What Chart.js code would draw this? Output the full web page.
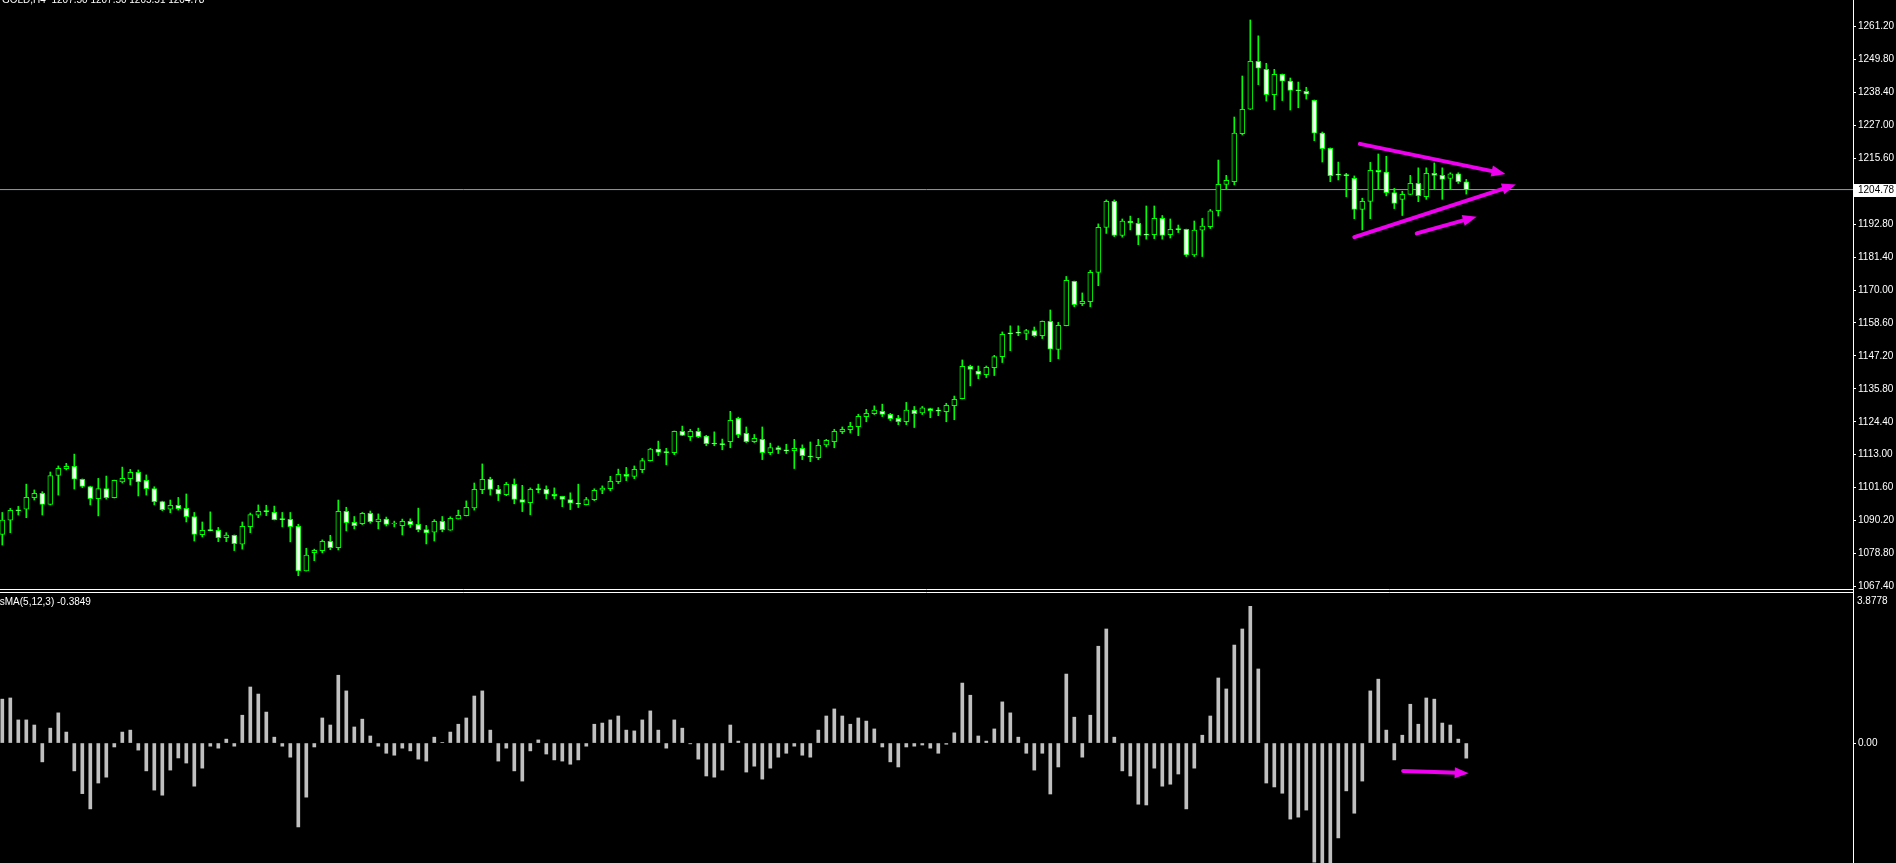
<!DOCTYPE html>
<html>
<head>
<meta charset="utf-8">
<script src="https://cdn.jsdelivr.net/npm/chart.js@4"></script>
<style>
html, body { margin: 0; padding: 0; background: #000; overflow: hidden; }
#myChart { display: block; }
</style>
</head>
<body>
<canvas id="myChart" width="1896" height="863"></canvas>
<script>
// GOLD H4 candles
var opens = [
1085.4,1090.3,1093.7,1094.1,1098.1,1099.6,1095.8,1105.8,1108.2,1109.0,
1104.5,1102.0,1097.8,1101.3,1098.1,1103.6,1104.7,1106.9,1104.1,1101.3,
1096.8,1094.1,1095.5,1094.4,1091.6,1085.3,1086.8,1086.8,1084.3,1085.1,
1082.0,1088.1,1092.1,1093.4,1093.0,1090.6,1090.6,1088.2,1072.8,1079.1,
1079.8,1083.0,1080.8,1093.4,1089.6,1089.1,1092.7,1089.8,1090.7,1089.0,
1088.4,1089.9,1088.9,1087.1,1086.2,1089.9,1086.9,1090.8,1091.9,1094.6,
1100.9,1104.5,1101.0,1099.2,1102.7,1097.5,1096.4,1101.0,1101.0,1099.3,
1098.6,1097.5,1096.0,1095.7,1097.4,1100.7,1101.2,1103.7,1106.2,1105.5,
1107.8,1110.9,1114.9,1113.8,1113.7,1121.1,1119.2,1121.1,1119.4,1116.8,
1116.6,1117.5,1125.6,1120.4,1117.5,1118.3,1113.7,1115.5,1114.4,1114.4,
1115.2,1112.3,1112.0,1116.4,1117.5,1121.0,1121.7,1122.7,1126.2,1127.2,
1128.0,1127.0,1125.6,1124.4,1128.4,1127.5,1129.0,1128.2,1127.9,1130.0,
1132.4,1143.6,1141.9,1140.7,1143.1,1146.9,1154.9,1155.2,1155.0,1156.0,
1154.2,1159.2,1149.4,1157.7,1173.0,1165.3,1166.0,1176.1,1191.7,1200.7,
1188.9,1193.9,1193.1,1189.2,1189.2,1194.8,1189.2,1191.0,1191.0,1182.2,
1190.7,1191.9,1197.5,1206.6,1207.5,1224.1,1232.6,1249.2,1246.4,1237.6,
1244.7,1242.3,1239.1,1238.8,1235.7,1224.3,1219.1,1209.9,1209.7,1208.7,
1197.9,1200.7,1211.4,1210.8,1203.7,1201.4,1203.1,1206.9,1202.3,1210.4,
1209.7,1208.6,1210.2,1207.5];
var highs = [
1093.0,1094.4,1095.1,1102.8,1100.8,1100.2,1107.0,1109.1,1110.0,1113.2,
1104.6,1102.1,1104.8,1105.6,1104.2,1108.7,1107.9,1107.7,1106.0,1101.9,
1096.9,1097.3,1098.2,1099.4,1093.0,1089.7,1093.2,1087.8,1086.0,1085.2,
1089.7,1092.8,1095.6,1095.5,1095.2,1093.0,1093.0,1088.9,1080.6,1080.3,
1083.5,1085.1,1097.3,1094.8,1091.6,1093.0,1093.5,1092.5,1091.4,1090.0,
1090.7,1090.8,1094.5,1088.5,1090.5,1091.6,1091.5,1093.8,1097.0,1103.2,
1109.8,1105.2,1102.4,1103.4,1104.6,1102.4,1101.5,1102.8,1102.2,1101.5,
1098.6,1099.8,1102.8,1098.2,1101.2,1102.2,1105.5,1108.0,1108.6,1109.1,
1111.7,1115.2,1117.7,1115.2,1121.2,1122.9,1121.8,1122.2,1119.7,1120.9,
1118.4,1128.0,1126.0,1122.6,1120.0,1122.6,1117.0,1116.0,1116.6,1118.3,
1116.4,1117.4,1118.3,1118.3,1121.8,1122.6,1124.2,1127.0,1128.7,1129.9,
1130.5,1127.3,1126.6,1131.1,1129.7,1129.7,1129.1,1129.3,1130.8,1133.3,
1145.8,1144.0,1143.7,1143.7,1147.4,1155.5,1157.6,1157.6,1156.4,1157.2,
1159.3,1163.1,1158.8,1174.7,1173.1,1169.0,1176.8,1192.9,1201.2,1201.2,
1194.6,1195.6,1194.8,1199.1,1199.1,1195.8,1194.6,1192.5,1191.1,1193.9,
1194.8,1197.9,1215.0,1209.7,1229.9,1244.1,1263.5,1258.0,1248.5,1246.4,
1244.8,1243.4,1242.0,1240.2,1235.8,1224.7,1219.2,1214.3,1210.4,1209.5,
1201.8,1214.2,1217.1,1216.3,1205.2,1204.2,1209.7,1212.3,1212.3,1214.0,
1212.3,1210.6,1210.6,1208.3];
var lows = [
1081.7,1086.0,1092.1,1091.2,1097.3,1092.1,1095.6,1099.0,1107.7,1101.1,
1101.6,1095.6,1091.8,1097.6,1098.0,1103.2,1102.5,1098.7,1099.0,1095.6,
1093.6,1092.9,1093.8,1089.7,1083.1,1084.5,1086.6,1082.9,1082.9,1079.8,
1080.3,1086.0,1091.2,1091.9,1090.4,1088.0,1082.8,1071.1,1072.7,1076.3,
1079.0,1080.1,1080.0,1086.6,1087.3,1088.8,1089.3,1087.3,1088.3,1088.0,
1085.2,1087.8,1086.3,1082.1,1083.1,1086.3,1086.8,1090.7,1091.8,1093.8,
1099.5,1099.0,1097.1,1098.8,1096.0,1093.3,1092.2,1099.8,1097.7,1097.7,
1095.0,1094.0,1094.7,1095.6,1097.1,1099.5,1100.5,1103.0,1104.0,1104.7,
1106.8,1110.8,1112.7,1109.5,1113.0,1119.6,1117.9,1118.9,1116.1,1116.1,
1114.7,1115.4,1118.9,1117.2,1117.2,1111.3,1113.0,1113.4,1113.4,1108.2,
1111.3,1110.6,1111.3,1115.7,1115.4,1120.3,1120.5,1119.6,1124.4,1126.9,
1126.2,1124.8,1123.4,1123.4,1122.4,1126.9,1125.8,1126.5,1124.4,1125.1,
1132.3,1136.8,1139.3,1139.7,1140.4,1144.9,1149.0,1154.2,1152.8,1153.9,
1153.2,1145.2,1146.2,1157.6,1164.2,1164.6,1164.2,1171.5,1189.6,1188.5,
1188.3,1190.8,1185.7,1187.6,1187.8,1187.6,1188.0,1189.9,1181.6,1181.6,
1181.6,1191.3,1195.6,1204.9,1206.4,1223.7,1232.5,1241.1,1235.4,1232.4,
1235.6,1232.3,1233.1,1236.1,1221.7,1214.3,1207.5,1208.1,1202.3,1194.7,
1190.8,1194.7,1205.0,1202.6,1198.2,1195.8,1203.0,1200.6,1201.4,1205.0,
1201.4,1205.0,1206.9,1203.2];
var closes = [
1090.4,1093.7,1093.6,1098.2,1099.6,1095.8,1105.8,1108.3,1109.0,1104.5,
1102.0,1097.8,1101.3,1098.1,1104.1,1104.8,1106.9,1103.6,1101.2,1096.7,
1094.0,1095.5,1094.3,1091.5,1085.4,1086.8,1086.7,1084.3,1085.2,1082.2,
1088.2,1092.3,1093.4,1093.3,1090.5,1090.5,1088.1,1072.8,1078.2,1079.9,
1083.0,1080.8,1093.4,1089.5,1088.4,1092.7,1089.8,1090.7,1088.9,1089.1,
1089.9,1088.8,1087.0,1085.9,1089.9,1087.0,1091.0,1092.0,1094.8,1101.0,
1104.5,1101.0,1099.3,1102.7,1097.5,1096.5,1101.0,1100.9,1099.3,1098.6,
1097.5,1096.2,1095.9,1097.5,1100.7,1101.4,1103.8,1106.2,1105.5,1107.9,
1111.0,1114.9,1113.8,1113.7,1121.1,1119.7,1121.1,1119.2,1116.8,1116.7,
1116.5,1124.9,1119.9,1117.5,1118.7,1113.7,1115.5,1114.7,1114.3,1115.2,
1112.7,1112.2,1116.2,1118.0,1121.1,1121.8,1122.8,1126.3,1127.3,1128.4,
1126.9,1125.5,1124.4,1128.4,1127.2,1129.2,1128.2,1128.1,1130.1,1132.2,
1143.6,1142.5,1140.8,1143.2,1147.0,1154.7,1154.8,1155.1,1156.0,1154.2,
1159.2,1149.5,1157.8,1173.4,1164.9,1166.1,1176.1,1191.7,1200.7,1188.9,
1193.9,1193.2,1188.9,1189.0,1194.8,1188.9,1191.0,1190.9,1182.2,1190.8,
1192.1,1197.4,1206.6,1208.0,1224.3,1232.6,1249.2,1246.8,1237.6,1244.7,
1242.3,1239.1,1239.0,1237.8,1224.3,1218.9,1209.6,1209.8,1209.6,1197.9,
1200.7,1211.4,1210.8,1203.7,1200.0,1203.1,1206.9,1202.7,1210.4,1209.7,
1208.3,1210.2,1207.5,1204.78];

// OsMA(5,12,3) histogram
var osma = [
1.12,1.15,0.59,0.59,0.46,-0.48,0.38,0.77,0.28,-0.71,
-1.29,-1.68,-1.02,-0.87,-0.10,0.28,0.33,-0.18,-0.71,-1.20,
-1.33,-0.69,-0.38,-0.51,-1.10,-0.64,-0.08,-0.13,0.10,-0.08,
0.71,1.43,1.25,0.79,0.15,-0.08,-0.36,-2.14,-1.38,-0.10,
0.64,0.46,1.73,1.33,0.41,0.61,0.18,-0.08,-0.26,-0.31,
-0.13,-0.20,-0.41,-0.46,0.15,0.01,0.28,0.48,0.64,1.20,
1.33,0.33,-0.46,-0.13,-0.71,-0.97,-0.20,0.08,-0.28,-0.43,
-0.46,-0.54,-0.43,-0.08,0.48,0.51,0.59,0.69,0.33,0.31,
0.59,0.82,0.33,-0.13,0.59,0.38,-0.02,-0.41,-0.84,-0.87,
-0.69,0.46,0.05,-0.74,-0.59,-0.92,-0.64,-0.36,-0.26,-0.08,
-0.31,-0.36,0.33,0.69,0.87,0.69,0.48,0.64,0.56,0.36,
-0.10,-0.48,-0.61,-0.10,-0.08,-0.05,-0.13,-0.26,-0.03,0.26,
1.53,1.22,0.18,0.05,0.36,1.05,0.77,0.15,-0.26,-0.69,
-0.26,-1.30,-0.61,1.76,0.66,-0.36,0.71,2.47,2.91,0.15,
-0.71,-0.84,-1.56,-1.58,-0.64,-1.10,-1.05,-0.79,-1.68,-0.64,
0.20,0.69,1.66,1.38,2.50,2.91,3.49,1.89,-1.02,-1.12,
-1.28,-1.94,-1.89,-1.71,-3.04,-3.30,-3.20,-2.42,-1.22,-1.79,
-0.97,1.33,1.63,0.33,-0.43,0.20,0.99,0.48,1.15,1.12,
0.51,0.46,0.10,-0.3849];

var priceTicks = [1067.40,1078.80,1090.20,1101.60,1113.00,1124.40,1135.80,1147.20,1158.60,
                  1170.00,1181.40,1192.80,1215.60,1227.00,1238.40,1249.80,1261.20];
var osmaTicks = [0];
var osmaMaxLabel = '3.8778';
var symbolText = 'GOLD,H4  1207.50 1207.50 1205.51 1204.78';
var osmaText = 'OsMA(5,12,3) -0.3849';
var lastPrice = 1204.78;

// hand drawn magenta arrows: x1, v1, x2, v2, axis
var arrows = [
    [169.7, 1220.6, 187.9, 1210.2, 'y'],
    [169.0, 1188.3, 189.2, 1206.5, 'y'],
    [176.8, 1189.6, 184.3, 1195.4, 'y'],
    [175.1, -0.71, 183.3, -0.77, 'y2']
];

window.onload = function() {
    var ctx = document.getElementById('myChart').getContext('2d');
    Chart.defaults.font.family = 'Liberation Sans';
    Chart.defaults.font.size = 10;

    var wickData = [], bodyData = [], bodyFill = [], osmaData = [];
    for (var i = 0; i < opens.length; i++) {
        wickData.push({x: i, y: [lows[i], highs[i]]});
        bodyData.push({x: i, y: [opens[i], closes[i]]});
        bodyFill.push(closes[i] < opens[i] ? '#ffffff' : '#000000');
        osmaData.push({x: i, y: osma[i]});
    }

    var xMin = -0.2875, xMax = 231.3375;

    function drawArrow(c, x1, y1, x2, y2, head) {
        var a = Math.atan2(y2 - y1, x2 - x1);
        var cs = Math.cos(a), sn = Math.sin(a);
        c.beginPath();
        c.moveTo(x1, y1);
        c.lineTo(x2 - cs * head * 0.8, y2 - sn * head * 0.8);
        c.stroke();
        c.beginPath();
        c.moveTo(x2, y2);
        c.lineTo(x2 - head * cs + head * 0.4 * sn, y2 - head * sn - head * 0.4 * cs);
        c.lineTo(x2 - head * cs - head * 0.4 * sn, y2 - head * sn + head * 0.4 * cs);
        c.closePath();
        c.fill();
    }

    var extras = {
        id: 'extras',
        afterDraw: function(chart) {
            var c = chart.ctx, area = chart.chartArea;
            var sx = chart.scales.x, sy = chart.scales.y, sy2 = chart.scales.y2;
            c.save();
            // panel separators
            var yb = Math.round(sy.bottom);
            c.strokeStyle = '#ffffff';
            c.lineWidth = 1;
            c.beginPath();
            c.moveTo(0, yb + 0.5); c.lineTo(area.right, yb + 0.5);
            c.moveTo(0, yb + 3.5); c.lineTo(area.right, yb + 3.5);
            c.stroke();

            c.font = '10px "Liberation Sans"';
            c.fillStyle = '#ffffff';
            c.textAlign = 'left';
            c.textBaseline = 'alphabetic';
            c.fillText(symbolText, 2, 3);
            c.textBaseline = 'middle';
            c.fillText(osmaText, -8, yb + 13);
            c.fillText(osmaMaxLabel, area.right + 4, yb + 12);

            // current price label
            var py = Math.round(sy.getPixelForValue(lastPrice));
            c.fillStyle = '#ffffff';
            c.fillRect(area.right + 1, py - 6, 43, 13);
            c.fillStyle = '#000000';
            c.fillText(lastPrice.toFixed(2), area.right + 5, py + 0.5);

            // annotations
            c.strokeStyle = '#f000f0';
            c.fillStyle = '#f000f0';
            c.lineWidth = 4;
            c.lineCap = 'round';
            arrows.forEach(function(a) {
                var sc = chart.scales[a[4]];
                drawArrow(c, sx.getPixelForValue(a[0]), sc.getPixelForValue(a[1]),
                          sx.getPixelForValue(a[2]), sc.getPixelForValue(a[3]), 14);
            });
            c.restore();
        }
    };

    var myChart = new Chart(ctx, {
        type: 'bar',
        data: {
            datasets: [
                {
                    type: 'line',
                    data: [{x: xMin, y: lastPrice}, {x: xMax, y: lastPrice}],
                    borderColor: '#8f9aa6',
                    borderWidth: 1,
                    pointRadius: 0,
                    yAxisID: 'y',
                    order: 4
                },
                {
                    data: wickData,
                    backgroundColor: '#00ff00',
                    barThickness: 1,
                    grouped: false,
                    yAxisID: 'y',
                    order: 3
                },
                {
                    data: bodyData,
                    backgroundColor: bodyFill,
                    borderColor: '#00ff00',
                    borderWidth: 1,
                    borderSkipped: false,
                    barThickness: 5,
                    minBarLength: 1,
                    grouped: false,
                    yAxisID: 'y',
                    order: 2
                },
                {
                    data: osmaData,
                    backgroundColor: '#c0c0c0',
                    barThickness: 3,
                    grouped: false,
                    yAxisID: 'y2',
                    order: 1
                }
            ]
        },
        options: {
            responsive: false,
            animation: false,
            events: [],
            layout: { padding: 0 },
            plugins: {
                legend: { display: false },
                tooltip: { enabled: false }
            },
            scales: {
                x: {
                    type: 'linear',
                    min: xMin,
                    max: xMax,
                    offset: false,
                    display: false
                },
                y: {
                    type: 'linear',
                    position: 'right',
                    stack: 'panes',
                    stackWeight: 589,
                    min: 1066.50,
                    max: 1270.41,
                    afterBuildTicks: function(s) {
                        s.ticks = priceTicks.map(function(v) { return {value: v}; });
                    },
                    afterFit: function(s) {
                        s.width = 43; s.paddingTop = 0; s.paddingBottom = 0;
                    },
                    ticks: {
                        color: '#ffffff',
                        autoSkip: false,
                        padding: 2,
                        callback: function(v) { return v.toFixed(2); }
                    },
                    grid: { drawOnChartArea: false, color: '#ffffff', tickLength: 3 },
                    border: { color: '#ffffff' }
                },
                y2: {
                    type: 'linear',
                    position: 'right',
                    stack: 'panes',
                    stackWeight: 274,
                    min: -3.06,
                    max: 3.93,
                    afterBuildTicks: function(s) {
                        s.ticks = osmaTicks.map(function(v) { return {value: v}; });
                    },
                    afterFit: function(s) {
                        s.width = 43; s.paddingTop = 0; s.paddingBottom = 0;
                    },
                    ticks: {
                        color: '#ffffff',
                        autoSkip: false,
                        padding: 2,
                        callback: function(v) { return v.toFixed(2); }
                    },
                    grid: { drawOnChartArea: false, color: '#ffffff', tickLength: 3 },
                    border: { color: '#ffffff' }
                }
            }
        },
        plugins: [extras]
    });
};
</script>
</body>
</html>
